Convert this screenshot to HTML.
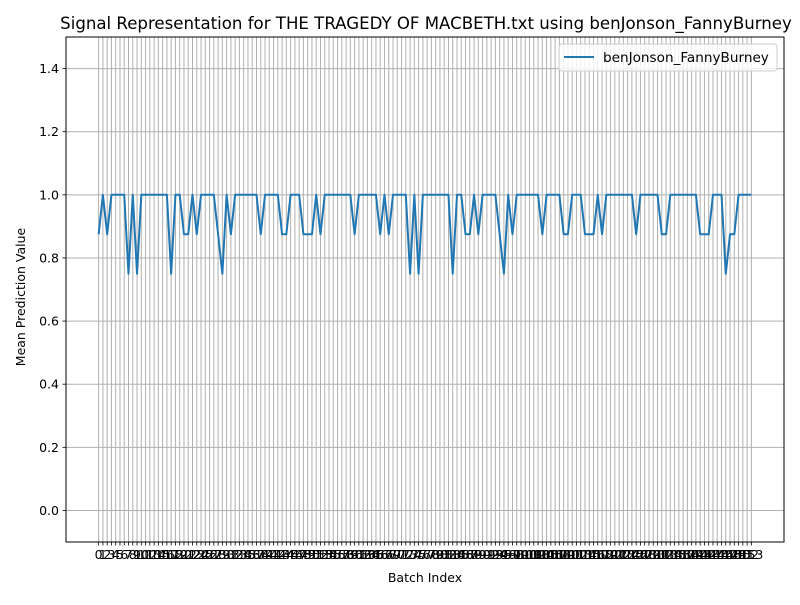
<!DOCTYPE html>
<html><head><meta charset="utf-8"><style>
body{margin:0;background:#fff;}
svg text{font-family:"DejaVu Sans","Liberation Sans",sans-serif;}
</style></head><body>
<svg id="chart" width="800" height="600" xmlns="http://www.w3.org/2000/svg">
<rect width="800" height="600" fill="#fff"/>
<g id="grid"></g>
<g id="ticks"></g>
<path id="line" fill="none" stroke="#1f77b4" stroke-width="2" stroke-linejoin="round"/>
<rect x="66" y="37" width="718" height="505" fill="none" stroke="#000" stroke-width="1"/>
<text x="426" y="29" font-size="16.6" text-anchor="middle">Signal Representation for THE TRAGEDY OF MACBETH.txt using benJonson_FannyBurney</text>
<text x="425" y="582" font-size="12.5" text-anchor="middle">Batch Index</text>
<text x="25" y="297" font-size="12.5" text-anchor="middle" transform="rotate(-90 25 297)">Mean Prediction Value</text>
<g>
<rect x="559" y="44" width="218" height="27" rx="3" fill="#fff" fill-opacity="0.8" stroke="#ccc"/>
<line x1="564" y1="57" x2="594" y2="57" stroke="#1f77b4" stroke-width="2"/>
<text x="603" y="62" font-size="13.6">benJonson_FannyBurney</text>
</g>
</svg>
<script>
const values=[0.875,1,0.875,1,1,1,1,0.75,1,0.75,
1,1,1,1,1,1,1,0.75,1,1,
0.875,0.875,1,0.875,1,1,1,1,0.875,0.75,
1,0.875,1,1,1,1,1,1,0.875,1,
1,1,1,0.875,0.875,1,1,1,0.875,0.875,
0.875,1,0.875,1,1,1,1,1,1,1,
0.875,1,1,1,1,1,0.875,1,0.875,1,
1,1,1,0.75,1,0.75,1,1,1,1,
1,1,1,0.75,1,1,0.875,0.875,1,0.875,
1,1,1,1,0.875,0.75,1,0.875,1,1,
1,1,1,1,0.875,1,1,1,1,0.875,
0.875,1,1,1,0.875,0.875,0.875,1,0.875,1,
1,1,1,1,1,1,0.875,1,1,1,
1,1,0.875,0.875,1,1,1,1,1,1,
1,0.875,0.875,0.875,1,1,1,0.75,0.875,0.875,
1,1,1,1];
const yTicks=[0.0,0.2,0.4,0.6,0.8,1.0,1.2,1.4];
const L=66,R=784,T=37,B=542;
const xmin=-7.65,xmax=160.65,ymin=-0.1,ymax=1.5;
const X=v=>L+(v-xmin)/(xmax-xmin)*(R-L);
const Y=v=>B-(v-ymin)/(ymax-ymin)*(B-T);
const NS="http://www.w3.org/2000/svg";
const grid=document.getElementById('grid'),ticks=document.getElementById('ticks');
function mk(tag,attrs,parent){const e=document.createElementNS(NS,tag);for(const k in attrs)e.setAttribute(k,attrs[k]);parent.appendChild(e);return e;}
values.forEach((v,i)=>{
  const x=X(i);
  const g=mk('line',{x1:x,x2:x,y1:T,y2:B,stroke:'#b0b0b0','stroke-width':1},grid);
  
  
  const t=mk('line',{x1:x,x2:x,y1:B,y2:B+3.5,stroke:'#000','stroke-width':0.8},ticks);
  
  
  const l=mk('text',{x:x,y:B+17,'font-size':12.5,'text-anchor':'middle'},ticks);
  l.textContent=String(i);
  
  
});
yTicks.forEach(v=>{
  const y=Y(v);
  const g=mk('line',{x1:L,x2:R,y1:y,y2:y,stroke:'#b0b0b0','stroke-width':1},grid);
  
  
  const t=mk('line',{x1:L-3.5,x2:L,y1:y,y2:y,stroke:'#000','stroke-width':0.8},ticks);
  
  
  const l=mk('text',{x:L-7,y:y+4.5,'font-size':12.5,'text-anchor':'end'},ticks);
  l.textContent=v.toFixed(1);
  
  
});
document.getElementById('line').setAttribute('d',values.map((v,i)=>(i?'L':'M')+X(i).toFixed(2)+' '+Y(v).toFixed(2)).join(''));
</script>
</body></html>
